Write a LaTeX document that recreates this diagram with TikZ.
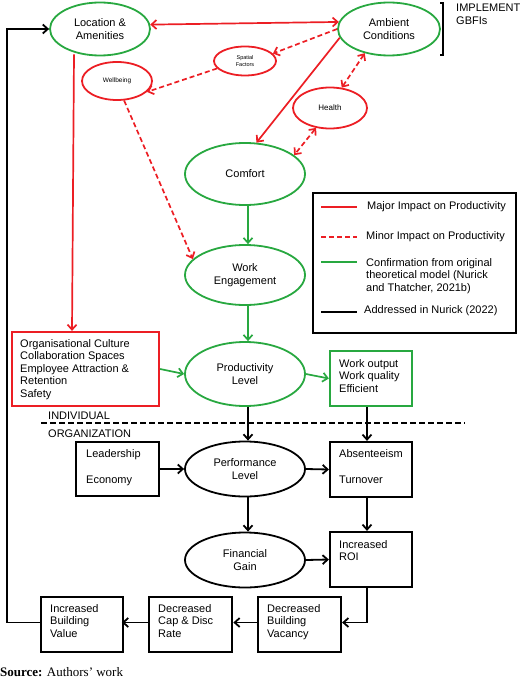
\documentclass[tikz,border=0pt]{standalone}
\usepackage{fontspec}
\setmainfont{Liberation Sans}
\newfontfamily\serifsrc{Liberation Serif}
\usetikzlibrary{arrows.meta,calc,shapes.geometric}
\definecolor{mred}{RGB}{236,30,36}
\definecolor{mgreen}{RGB}{40,168,64}
\begin{document}
\begin{tikzpicture}[x=1pt,y=-1pt,
  every node/.style={font=\fontsize{11}{12.5}\selectfont},
  tip/.style={-{Straight Barb[length=5pt,width=9pt]}},
  tiptwo/.style={{Straight Barb[length=5pt,width=9pt]}-{Straight Barb[length=5pt,width=9pt]}},
  ell/.style={ellipse,draw,line width=1.8pt,inner sep=0pt,align=center},
  gell/.style={ell,draw=mgreen},
  rell/.style={ell,draw=mred},
  bell/.style={ell,draw=black},
  boxn/.style={rectangle,draw,line width=2.2pt,inner sep=0pt},
  txt/.style={inner sep=0pt,align=left,anchor=north west},
  major/.style={draw=mred,line width=1.7pt},
  minor/.style={draw=mred,line width=1.7pt,dash pattern=on 5pt off 3pt},
  conf/.style={draw=mgreen,line width=1.7pt},
  addr/.style={draw=black,line width=1.8pt}]
\useasboundingbox (0,0) rectangle (520,679);

% ellipses
\node[gell,minimum width=100pt,minimum height=53pt] (loc) at (100,29) {Location \&\\Amenities};
\node[gell,minimum width=102pt,minimum height=53pt] (amb) at (389,29) {Ambient\\Conditions};
\node[rell,minimum width=62pt,minimum height=29pt,font=\fontsize{5.5}{6.7}\selectfont] (sf) at (245,61) {Spatial\\Factors};
\node[rell,minimum width=70pt,minimum height=38pt,font=\fontsize{6.5}{7.5}\selectfont] (wb) at (117,81) {Wellbeing};
\node[rell,minimum width=74pt,minimum height=41pt,font=\fontsize{8}{9}\selectfont] (hl) at (330,108) {Health};
\node[gell,minimum width=120pt,minimum height=62pt] (comf) at (245,174) {Comfort};
\node[gell,minimum width=120pt,minimum height=60pt] (we) at (245,275) {Work\\Engagement};
\node[gell,minimum width=120pt,minimum height=64pt] (prod) at (245,374) {Productivity\\Level};
\node[bell,minimum width=120pt,minimum height=55pt] (perf) at (245,469) {Performance\\Level};
\node[bell,minimum width=120pt,minimum height=55pt] (fin) at (245,560) {Financial\\Gain};

% bracket and implement text
\draw[line width=1.8pt] (440,3) coordinate (bra) -- (443,3) -- (443,55) -- (440,55) coordinate (brb);
\node[txt] (impl) at (456,4) {IMPLEMENT\\GBFIs};

% boxes
\node[boxn,draw=mred,minimum width=147pt,minimum height=74pt] (org) at (85.5,369) {};
\node[txt] (orgt) at (20,339) {Organisational Culture\\Collaboration Spaces\\Employee Attraction \&\\Retention\\Safety};
\node[boxn,draw=mgreen,minimum width=82pt,minimum height=55pt] (wo) at (371,378.5) {};
\node[txt] (wot) at (339,359) {Work output\\Work quality\\Efficient};
\node[boxn,minimum width=83pt,minimum height=54pt] (lead) at (117.5,469) {};
\node[txt] (leadt) at (86,449) {Leadership\\[13.5pt]Economy};
\node[boxn,minimum width=82pt,minimum height=55pt] (abs) at (371,469.5) {};
\node[txt] (abst) at (339,449) {Absenteeism\\[13.5pt]Turnover};
\node[boxn,minimum width=82pt,minimum height=55pt] (roi) at (371,559.5) {};
\node[txt] (roit) at (339,540) {Increased\\ROI};
\node[boxn,minimum width=83pt,minimum height=55pt] (dbv) at (299.5,624.5) {};
\node[txt] (dbvt) at (267,604) {Decreased\\Building\\Vacancy};
\node[boxn,line width=2.7pt,minimum width=83pt,minimum height=55pt] (cap) at (190.5,624.5) {};
\node[txt] (capt) at (158,604) {Decreased\\Cap \& Disc\\Rate};
\node[boxn,minimum width=82pt,minimum height=55pt] (ibv) at (82,624.5) {};
\node[txt] (ibvt) at (50,604) {Increased\\Building\\Value};

% legend
\node[boxn,minimum width=203pt,minimum height=140pt] (leg) at (414.5,263) {};
\draw[major] (321,207) -- (357,207);
\node[anchor=west,inner sep=0pt] (l1) at (367,207) {Major Impact on Productivity};
\draw[minor] (321,237) -- (357,237);
\node[anchor=west,inner sep=0pt] (l2) at (366,237) {Minor Impact on Productivity};
\draw[conf] (321,262) -- (357,262);
\node[txt] (l3) at (366,258) {Confirmation from original\\theoretical model (Nurick\\and Thatcher, 2021b)};
\draw[addr,line width=2.2pt] (321,312) -- (357,312);
\node[anchor=west,inner sep=0pt] (l4) at (364,311) {Addressed in Nurick (2022)};

% individual / organization
\draw[line width=2pt,dash pattern=on 6pt off 3pt] (41,423) coordinate (dl) -- (465,423) coordinate (dr);
\node[anchor=west,inner sep=0pt] (ind) at (48,416) {INDIVIDUAL};
\node[anchor=west,inner sep=0pt] (orgn) at (48,434) {ORGANIZATION};

% red connectors
\draw[major,tiptwo] (loc.5) -- (amb.172);
\draw[major,tip] (amb.190) -- (comf.70);
\draw[major,tip] ($(loc.south)+(-26,-2)$) -- ($(org.north)+(-13.5,0)$);
\draw[minor,tip] (amb.west) -- (sf.15);
\draw[minor,tip] (sf.195) -- (wb.340);
\draw[minor,tiptwo] (amb.225) -- (hl.60);
\draw[minor,tiptwo] (hl.235) -- (comf.21);
\draw[minor,tip] (wb.290) -- (we.163);

% green connectors
\draw[conf,tip] ($(comf.south)+(3,0)$) -- ($(we.north)+(3,0)$);
\draw[conf,tip] ($(we.south)+(3,0)$) -- ($(prod.north)+(3,0)$);
\draw[conf,tip] (org.east) -- (prod.west);
\draw[conf,tip] (prod.east) -- (wo.west);

% black connectors
\draw[addr,tip] ($(prod.south)+(3,0)$) -- ($(perf.north)+(3,0)$);
\draw[addr,tip] ($(wo.south)+(-4,0)$) -- ($(abs.north)+(-4,0)$);
\draw[addr,tip] (lead.east) -- (perf.west);
\draw[addr,tip] (perf.east) -- (abs.west);
\draw[addr,tip] ($(perf.south)+(3,0)$) -- ($(fin.north)+(3,0)$);
\draw[addr,tip] ($(abs.south)+(-4,0)$) -- ($(roi.north)+(-4,0)$);
\draw[addr,tip] (fin.east) -- (roi.west);
\draw[addr,tip] ($(roi.south)+(-4,0)$) |- ($(dbv.east)+(0,-2)$);
\draw[addr,tip] ($(dbv.west)+(0,-2)$) -- ($(cap.east)+(0,-2)$);
\draw[addr,tip] ($(cap.west)+(0,-2)$) -- ($(ibv.west)+(82,-2)$);
\coordinate (back) at (7,622.5);
\draw[addr,tip] ($(ibv.west)+(0,-2)$) -- (back) |- (loc.west);

% source
\node[anchor=west,inner sep=0pt,font=\fontsize{13}{15}\serifsrc] (src) at (0,672) {\textbf{Source:} Authors’ work};
\end{tikzpicture}
\end{document}
